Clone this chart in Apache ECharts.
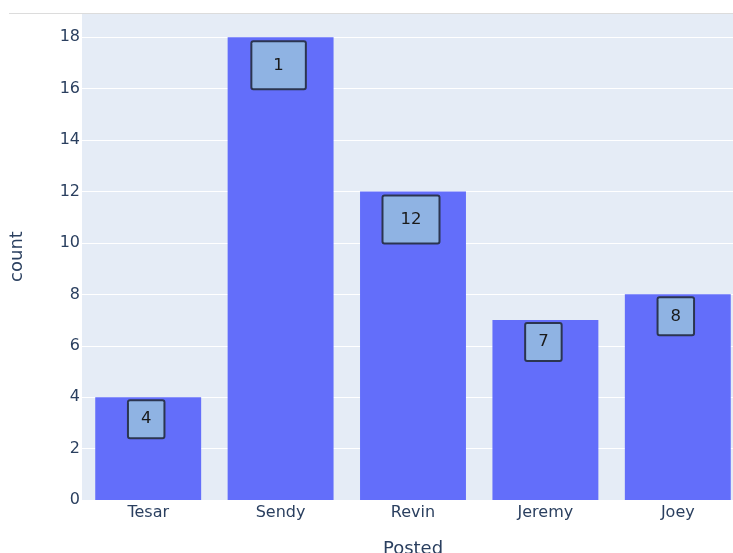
<!DOCTYPE html>
<html>
<head>
<meta charset="utf-8">
<script src="https://cdn.jsdelivr.net/npm/echarts@6/dist/echarts.min.js"></script>
<style>
  html, body { margin: 0; padding: 0; background: #ffffff; overflow: hidden; }
  #chart { width: 733px; height: 553px; }
</style>
</head>
<body>
<div id="chart"></div>
<script>
// Posts per author
const categories = ['Tesar', 'Sendy', 'Revin', 'Jeremy', 'Joey'];
const counts = [4, 18, 12, 7, 8];
const boxLabels = ['4', '1', '12', '7', '8'];
const yTicks = [0, 2, 4, 6, 8, 10, 12, 14, 16, 18];

const textColor = '#2a3f5f';
const fontFamily = '"DejaVu Sans", Verdana, sans-serif';

// Padding around each boxed annotation: [vertical, horizontal]
const boxPadding = [[9, 12], [14, 21], [14, 17], [9, 12], [9, 12]];

function boxStyle(text, i) {
  const p = boxPadding[i];
  return {
    show: true,
    position: 'insideTop',
    distance: p[0] > 10 ? 5 : 4,
    offset: [-2, 0],
    formatter: text,
    color: '#1a1a1a',
    fontFamily: fontFamily,
    fontSize: 16.5,
    lineHeight: 18,
    backgroundColor: '#8fb3e3',
    borderColor: '#2b3550',
    borderWidth: 2,
    borderRadius: 1,
    padding: [p[0], p[1], p[0], p[1]]
  };
}

const chart = echarts.init(document.getElementById('chart'), null, { renderer: 'canvas' });
chart.setOption({
  backgroundColor: '#ffffff',
  animation: false,
  graphic: [{
    type: 'line',
    shape: { x1: 9, y1: 13.5, x2: 733, y2: 13.5 },
    style: { stroke: '#dcdcdc', lineWidth: 1 },
    z: 100
  }],
  grid: {
    left: 82, right: -11, top: 13, bottom: 53,
    containLabel: false, outerBoundsMode: 'none',
    show: true, backgroundColor: '#e5ecf6', borderWidth: 0
  },
  xAxis: {
    type: 'category',
    data: categories,
    name: 'Posted',
    nameLocation: 'middle',
    nameGap: 40,
    nameTextStyle: { color: textColor, fontSize: 18, fontFamily: fontFamily },
    axisLine: { show: false },
    axisTick: { show: false },
    axisLabel: { color: textColor, fontSize: 16, fontFamily: fontFamily, margin: 5 },
    splitLine: { show: false }
  },
  yAxis: {
    type: 'value',
    min: 0,
    max: 18.947,
    interval: 2,
    name: 'count',
    nameLocation: 'middle',
    nameGap: 56,
    nameTextStyle: { color: textColor, fontSize: 18, fontFamily: fontFamily },
    axisLine: { show: false },
    axisTick: { show: false },
    axisLabel: {
      color: textColor, fontSize: 16, fontFamily: fontFamily, margin: 2,
      formatter: v => (yTicks.indexOf(v) >= 0 ? String(v) : '')
    },
    splitLine: { show: true, lineStyle: { color: '#ffffff', width: 1 } }
  },
  series: [{
    type: 'bar',
    barCategoryGap: '20%',
    itemStyle: { color: '#636efa' },
    data: counts.map((v, i) => ({ value: v, label: boxStyle(boxLabels[i], i) }))
  }]
});
</script>
</body>
</html>
